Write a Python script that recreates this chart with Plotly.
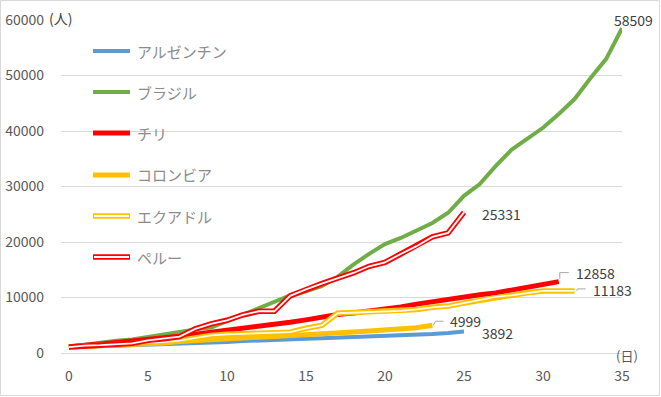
import plotly.graph_objects as go

# ---- data (days since ~1000 cases, cumulative cases) ----
names = ["アルゼンチン", "ブラジル", "チリ", "コロンビア", "エクアドル", "ペルー"]
argentina = [1054, 1133, 1265, 1353, 1451, 1554, 1628, 1715, 1795, 1894, 1975, 2142, 2208,
             2277, 2443, 2571, 2669, 2758, 2839, 2941, 3031, 3144, 3288, 3435, 3607, 3892]
brazil = [1128, 1546, 1891, 2201, 2433, 2915, 3417, 3904, 4256, 4579, 5717, 6836, 8044, 9056,
          10360, 11130, 12056, 13717, 15927, 17857, 19638, 20727, 22169, 23430, 25262, 28320,
          30425, 33682, 36599, 38654, 40581, 43079, 45757, 49492, 52995, 58509]
chile = [1142, 1306, 1610, 1909, 2139, 2449, 2738, 3031, 3404, 3737, 4161, 4471, 4815, 5116,
         5546, 5972, 6501, 6927, 7213, 7525, 7917, 8273, 8807, 9252, 9730, 10088, 10507,
         10832, 11296, 11812, 12306, 12858]
colombia = [1065, 1161, 1267, 1406, 1485, 1579, 1780, 2054, 2223, 2473, 2709, 2776, 2852,
            2979, 3105, 3233, 3439, 3621, 3792, 3977, 4149, 4356, 4561, 4999]
ecuador = [1082, 1211, 1403, 1595, 1823, 1924, 1962, 2240, 2748, 3163, 3368, 3465, 3646, 3747,
           3747, 4450, 4965, 7161, 7257, 7466, 7529, 7603, 7858, 8225, 8450, 9022, 9468,
           10128, 10398, 10850, 11183, 11183, 11183]
peru = [1065, 1323, 1414, 1595, 1746, 2281, 2561, 2954, 4342, 5256, 5897, 6848, 7519, 7519,
        10303, 11475, 12491, 13489, 14420, 15628, 16325, 17837, 19250, 20914, 21648, 25331]
x_ticks = [0, 5, 10, 15, 20, 25, 30, 35]
y_ticks = [0, 10000, 20000, 30000, 40000, 50000, 60000]
y_tick_labels = ["0", "10000", "20000", "30000", "40000", "50000", "60000"]

series = [argentina, brazil, chile, colombia, ecuador, peru]
colors = ["#5B9BD5", "#70AD47", "#FF0000", "#FFC000", "#FFC000", "#FF0000"]
widths = [4, 4, 5, 5, 5.5, 5.5]
inner = [None, None, None, None, "#FFFBEA", "#FFFFFF"]

FONT = "Noto Sans CJK JP, Noto Sans, sans-serif"
W, H = 661, 397
L, R, T, B = 61, 39, 20, 44
PW, PH = W - L - R, H - T - B


def px(xp):
    return (xp - L) / PW


def py(yp):
    return (H - B - yp) / PH


fig = go.Figure()
for name, vals, c, w, inn in zip(names, series, colors, widths, inner):
    days = list(range(len(vals)))
    fig.add_trace(go.Scatter(x=days, y=vals, mode="lines", name=name,
                             line=dict(color=c, width=w), showlegend=False,
                             hoverinfo="skip"))
    if inn:
        fig.add_trace(go.Scatter(x=days, y=vals, mode="lines", name=name,
                                 line=dict(color=inn, width=1.8), showlegend=False,
                                 hoverinfo="skip"))

shapes = []
annotations = []

# manual legend
leg_y = [51, 92, 133, 175, 216, 257]
for name, c, w, inn, yy in zip(names, colors, widths, inner, leg_y):
    shapes.append(dict(type="line", xref="paper", yref="paper", x0=px(93), x1=px(130),
                       y0=py(yy), y1=py(yy), line=dict(color=c, width=w)))
    if inn:
        shapes.append(dict(type="line", xref="paper", yref="paper", x0=px(94), x1=px(129),
                           y0=py(yy), y1=py(yy), line=dict(color=inn, width=1.8)))
    annotations.append(dict(x=px(135), y=py(yy), xref="paper", yref="paper", text=name,
                            showarrow=False, xanchor="left", yanchor="middle",
                            font=dict(family=FONT, size=15, color="#8C8C8C")))

# end labels
label_specs = [
    (brazil, 11, 8, "center"),
    (peru, 16, -2, "left"),
    (chile, 15, 9, "left"),
    (ecuador, 16, 1, "left"),
    (colombia, 16, 4, "left"),
    (argentina, 16, -2, "left"),
]
for vals, xs, ys, xa in label_specs:
    annotations.append(dict(x=len(vals) - 1, y=vals[-1], xref="x", yref="y",
                            text=str(vals[-1]), showarrow=False, xanchor=xa,
                            yanchor="middle", xshift=xs, yshift=ys,
                            font=dict(family=FONT, size=14, color="#404040")))

# leader lines
leaders = [
    (chile, "M 1 3 L 1 9 L 10 9"),
    (ecuador, "M 2 0 L 3 2 L 11 2"),
    (colombia, "M 1 0 L 3 4 L 11 4"),
]
for vals, path in leaders:
    shapes.append(dict(type="path", xref="x", yref="y", xsizemode="pixel",
                       ysizemode="pixel", xanchor=len(vals) - 1, yanchor=vals[-1],
                       path=path, line=dict(color="#A6A6A6", width=1)))

# axis unit labels
annotations.append(dict(x=px(60), y=py(18), xref="paper", yref="paper", text="(人)",
                        showarrow=False, xanchor="center", yanchor="middle",
                        font=dict(family=FONT, size=14, color="#404040")))
annotations.append(dict(x=px(627), y=py(355), xref="paper", yref="paper", text="(日)",
                        showarrow=False, xanchor="center", yanchor="middle",
                        font=dict(family=FONT, size=13, color="#595959")))

# chart border
shapes.append(dict(type="rect", xref="paper", yref="paper", x0=px(0.5), x1=px(659.5),
                   y0=py(0.5), y1=py(395.5), line=dict(color="#D9D9D9", width=1),
                   layer="below"))

fig.update_layout(
    width=W, height=H, autosize=False,
    margin=dict(l=L, r=R, t=T, b=B),
    paper_bgcolor="white", plot_bgcolor="white",
    font=dict(family=FONT, size=14, color="#595959"),
    xaxis=dict(range=[-0.5, 35], tickvals=x_ticks, showgrid=False, zeroline=False,
               showline=False, ticks="", tickfont=dict(size=14, color="#595959"),
               ticklabelstandoff=13, fixedrange=True, automargin=False),
    yaxis=dict(range=[0, 60000], tickvals=y_ticks, ticktext=y_tick_labels,
               showgrid=True, gridcolor="#D9D9D9",
               gridwidth=1, zeroline=True, zerolinecolor="#D9D9D9", zerolinewidth=1,
               showline=False, ticks="", tickfont=dict(size=14, color="#595959"),
               ticklabelstandoff=16, fixedrange=True, automargin=False),
    shapes=shapes, annotations=annotations, showlegend=False,
)

fig.write_html("out.html", config={"displayModeBar": False},
               post_script="document.body.style.margin='0';document.body.style.padding='0';")
